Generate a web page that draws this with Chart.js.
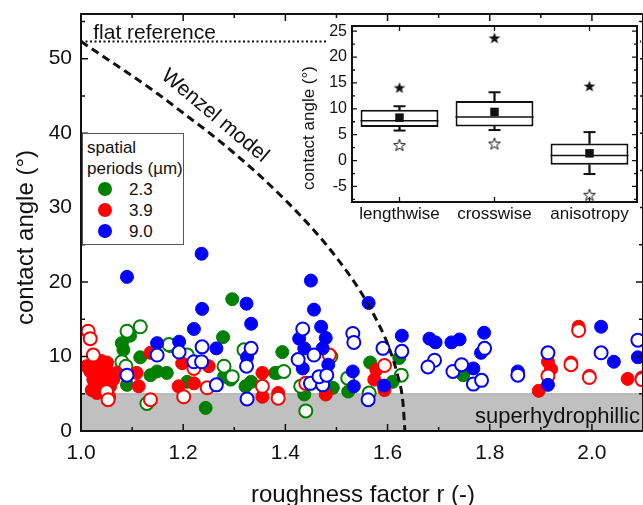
<!DOCTYPE html>
<html>
<head>
<meta charset="utf-8">
<script src="https://cdn.jsdelivr.net/npm/chart.js@4.4.0/dist/chart.umd.min.js"></script>
<style>
  html, body { margin:0; padding:0; background:#fff; overflow:hidden; }
  #wrap { position:relative; width:643px; height:505px; }
  #main { position:absolute; left:0; top:0; }
  #inset { position:absolute; left:296px; top:22px; }
  #legend { position:absolute; left:82px; top:133px; width:100px; height:107px; border:1px solid #555;
            background:#fff; font:17px 'Liberation Sans', Arial, sans-serif; color:#111; padding-top:3px; box-sizing:content-box; }
  #legend .row { height:21px; line-height:21px; padding-left:4px; white-space:nowrap; position:relative; }
  #legend .dot { position:absolute; left:15px; top:3px; width:14px; height:14px; border-radius:50%; }
  #legend .val { position:absolute; left:46px; }
</style>
</head>
<body>
<div id="wrap">
  <canvas id="main" width="643" height="505"></canvas>
  <canvas id="inset" width="344" height="208"></canvas>
  <div id="legend"></div>
</div>
<script>
const FONT = "'Liberation Sans', Arial, sans-serif";
const INK = '#111';

// spatial periods (legend)
const periodLabels = ['2.3', '3.9', '9.0'];
const periodColors = ['#008000', '#ff0000', '#0000ff'];

// [roughness factor r, contact angle deg]; solid = filled marker, open = hollow marker
const p23Solid = [[1.296,17.7],[1.278,12.6],[1.096,12.8],[1.080,11.8],[1.083,10.9],[1.116,9.9],[1.175,11.4],
  [1.136,7.5],[1.149,8.0],[1.168,7.8],[1.090,6.2],[1.244,3.1],[1.280,7.3],[1.208,6.6],[1.322,6.0],[1.333,6.6],
  [1.380,7.8],[1.394,10.6],[1.384,7.8],[1.437,4.9],[1.493,5.8],[1.523,5.3],[1.566,9.2],[1.610,6.6],[1.623,9.8],
  [1.748,7.5],[1.293,6.9]];
const p23Open = [[1.116,14.0],[1.090,13.4],[1.080,9.3],[1.088,8.7],[1.208,10.2],[1.280,8.7],[1.296,7.3],
  [1.319,10.9],[1.129,3.7],[1.397,8.0],[1.440,2.7],[1.430,6.0],[1.489,10.0],[1.522,7.1],[1.564,5.1],[1.627,7.5],
  [1.172,11.6]];
const p39Solid = [[1.018,8.0],[1.034,8.9],[1.050,8.4],[1.024,6.9],[1.044,7.3],[1.063,6.9],[1.021,5.5],[1.037,6.0],
  [1.057,6.0],[1.011,8.7],[1.031,5.1],[1.109,7.8],[1.113,6.0],[1.136,10.5],[1.198,9.1],[1.250,8.7],[1.191,6.0],
  [1.221,6.4],[1.355,7.8],[1.355,4.6],[1.386,5.1],[1.479,4.9],[1.578,8.2],[1.574,6.9],[1.594,5.5],[1.974,14.0],
  [1.914,9.3],[1.920,8.3],[1.896,5.4],[1.959,9.2],[1.995,7.4],[2.070,7.0],[2.098,7.2],[1.051,9.2],[1.070,7.8],
  [1.040,9.4],[1.028,7.6]];
const p39Open = [[1.014,13.4],[1.018,12.4],[1.024,10.2],[1.054,4.6],[1.050,5.3],[1.136,4.2],[1.201,4.6],[1.221,8.4],
  [1.247,5.8],[1.355,6.0],[1.386,4.4],[1.594,8.8],[1.440,6.4],[1.486,10.2],[1.974,13.5],[1.914,7.4],[1.959,8.9],
  [1.995,7.2],[2.098,6.9],[1.053,4.2]];
const p90Solid = [[1.090,20.7],[1.236,23.8],[1.237,16.4],[1.221,13.7],[1.324,17.1],[1.333,14.4],[1.149,11.8],
  [1.192,12.0],[1.265,11.1],[1.325,9.9],[1.450,20.2],[1.456,16.3],[1.470,14.0],[1.427,12.4],[1.479,12.5],
  [1.437,11.1],[1.473,11.1],[1.434,8.4],[1.484,8.9],[1.563,17.2],[1.628,12.8],[1.532,8.0],[1.534,6.0],[1.593,6.1],
  [1.682,12.4],[1.694,11.9],[1.725,11.9],[1.741,12.3],[1.789,13.2],[1.783,10.5],[1.768,8.4],[1.855,8.0],
  [1.914,6.2],[2.018,14.0],[2.043,9.3],[2.090,9.9]];
const p90Open = [[1.090,7.5],[1.149,10.2],[1.192,10.6],[1.221,9.3],[1.237,11.3],[1.236,9.3],[1.265,6.2],[1.333,11.1],
  [1.324,8.7],[1.325,4.3],[1.434,13.7],[1.425,9.6],[1.456,10.2],[1.449,6.4],[1.473,6.2],[1.466,7.3],[1.481,7.5],
  [1.532,13.1],[1.534,11.9],[1.591,11.1],[1.628,10.7],[1.562,4.2],[1.692,9.5],[1.679,8.6],[1.728,8.0],[1.745,8.9],
  [1.790,11.1],[1.768,6.3],[1.784,6.8],[1.855,7.5],[1.914,10.5],[2.018,10.5],[2.090,12.2]];

// model lines
const flatAngle = 52.3;
const wenzelR     = [1.0, 1.05, 1.1, 1.15, 1.2, 1.25, 1.3, 1.35, 1.4, 1.45, 1.5, 1.55, 1.58, 1.6, 1.62, 1.63, 1.634];
const wenzelAngle = [52.3, 50.0, 47.7, 45.3, 42.7, 40.1, 37.3, 34.3, 31.0, 27.4, 23.3, 18.4, 14.7, 11.7, 7.4, 3.9, 0];
const superLimit = 5;

// inset box plot
const boxCats   = ['lengthwise', 'crosswise', 'anisotropy'];
const boxQ1     = [6.5, 6.6, -0.8];
const boxQ3     = [9.8, 11.5, 3.3];
const boxMedian = [7.7, 8.4, 1.0];
const boxMean   = [8.3, 9.4, 1.4];
const whiskLo   = [5.8, 5.9, -2.6];
const whiskHi   = [10.5, 13.2, 5.5];
const boxMax    = [14.1, 23.7, 14.4];
const boxMin    = [3.0, 3.3, -6.6];

Chart.defaults.font.family = FONT;
Chart.defaults.color = INK;

// legend
document.getElementById('legend').innerHTML =
  '<div class="row">spatial</div><div class="row">periods (µm)</div>' +
  periodLabels.map((l, i) =>
    `<div class="row"><span class="dot" style="background:${periodColors[i]}"></span><span class="val">${l}</span></div>`
  ).join('');

function onStep(v, step) { return Math.abs(v / step - Math.round(v / step)) < 1e-6; }

// pin the plot area: no extra room for half tick labels
function fitX(h) { return s => { s.height = h; s.paddingLeft = 0; s.paddingRight = 0; }; }
function fitY(w) { return s => { s.width = w; s.paddingTop = 0; s.paddingBottom = 0; }; }

const tickMarks = {
  id: 'tickMarks',
  afterDatasetsDraw(chart, args, o) {
    const { ctx, chartArea: a } = chart;
    const xs = chart.scales.x, ys = chart.scales.y;
    ctx.save();
    ctx.strokeStyle = INK;
    ctx.lineWidth = o.frame;
    ctx.strokeRect(a.left, a.top, a.width, a.height);
    ctx.lineWidth = o.tickWidth;
    ctx.beginPath();
    xs.ticks.forEach((t, i) => {
      if (o.xStep && !onStep(t.value, o.xStep)) return;
      const p = xs.getPixelForTick(i);
      const len = t.label ? o.major : o.minor;
      ctx.moveTo(p, a.bottom); ctx.lineTo(p, a.bottom - len);
      ctx.moveTo(p, a.top); ctx.lineTo(p, a.top + len);
    });
    ys.ticks.forEach((t, i) => {
      if (o.yStep && !onStep(t.value, o.yStep)) return;
      const p = ys.getPixelForTick(i);
      const len = t.label ? o.major : o.minor;
      ctx.moveTo(a.left, p); ctx.lineTo(a.left + len, p);
      ctx.moveTo(a.right, p); ctx.lineTo(a.right - len, p);
    });
    ctx.stroke();
    ctx.restore();
  }
};

const mainText = {
  id: 'mainText',
  afterDatasetsDraw(chart) {
    const { ctx, chartArea: a } = chart;
    const xs = chart.scales.x, ys = chart.scales.y;
    ctx.save();
    ctx.fillStyle = INK;
    ctx.font = `21px ${FONT}`;
    ctx.textAlign = 'left';
    ctx.textBaseline = 'alphabetic';
    ctx.fillText('flat reference', xs.getPixelForValue(1.024), ys.getPixelForValue(flatAngle) - 3);

    ctx.save();
    ctx.translate(xs.getPixelForValue(1.262), ys.getPixelForValue(42.3));
    ctx.rotate(40 * Math.PI / 180);
    ctx.textAlign = 'center'; ctx.textBaseline = 'middle';
    ctx.fillText('Wenzel model', 0, 0);
    ctx.restore();

    ctx.font = `22px ${FONT}`;
    ctx.textAlign = 'right';
    ctx.fillText('superhydrophillic', a.right - 3, ys.getPixelForValue(1.1));

    ctx.font = `24px ${FONT}`;
    ctx.textAlign = 'center'; ctx.textBaseline = 'middle';
    ctx.fillText('roughness factor r (-)', (a.left + a.right) / 2 + 1, 495);
    ctx.save();
    ctx.translate(26, (a.top + a.bottom) / 2 + 15);
    ctx.rotate(-Math.PI / 2);
    ctx.fillText('contact angle (°)', 0, 0);
    ctx.restore();
    ctx.restore();
  }
};

const pointSets = [
  { pts: p23Solid, c: 0, open: false, order: 7 },
  { pts: p23Open,  c: 0, open: true,  order: 6 },
  { pts: p39Solid, c: 1, open: false, order: 5 },
  { pts: p39Open,  c: 1, open: true,  order: 4 },
  { pts: p90Solid, c: 2, open: false, order: 3 },
  { pts: p90Open,  c: 2, open: true,  order: 2 },
];

const mainDatasets = pointSets.map(s => ({
  type: 'scatter',
  label: periodLabels[s.c] + (s.open ? ' open' : ''),
  data: s.pts.map(([x, y]) => ({ x, y })),
  pointRadius: 6.5,
  pointBackgroundColor: s.open ? '#fff' : periodColors[s.c],
  pointBorderColor: periodColors[s.c],
  pointBorderWidth: s.open ? 2 : 1,
  order: s.order,
}));

mainDatasets.push(
  { type: 'line', label: 'Wenzel model', data: wenzelR.map((r, i) => ({ x: r, y: wenzelAngle[i] })),
    borderColor: INK, borderWidth: 3, borderDash: [8, 5], pointRadius: 0, fill: false,
    cubicInterpolationMode: 'monotone', order: 0 },
  { type: 'line', label: 'flat reference', data: [{ x: 1, y: flatAngle }, { x: 2.1, y: flatAngle }],
    borderColor: INK, borderWidth: 2, borderDash: [2, 2.5], pointRadius: 0, fill: false, order: 1 },
  { type: 'line', label: 'superhydrophillic', data: [{ x: 1, y: superLimit }, { x: 2.1, y: superLimit }],
    borderColor: '#a9a9a9', borderWidth: 1, backgroundColor: '#c0c0c0', fill: 'origin', pointRadius: 0, order: 10 }
);

new Chart(document.getElementById('main'), {
  type: 'scatter',
  data: { datasets: mainDatasets },
  options: {
    responsive: false,
    animation: false,
    layout: { autoPadding: false, padding: { top: 14, right: 0, left: 0, bottom: 0 } },
    plugins: {
      legend: { display: false },
      tooltip: { enabled: false },
      tickMarks: { frame: 2, tickWidth: 1.5, major: 7, minor: 4, xStep: 0.1, yStep: 5 },
    },
    scales: {
      x: {
        type: 'linear', min: 1, max: 2.1,
        afterFit: fitX(74),
        grid: { display: false, drawTicks: false },
        border: { display: false },
        ticks: {
          stepSize: 0.1, padding: 10, autoSkip: false, maxRotation: 0, includeBounds: false,
          font: { size: 21 }, color: INK,
          callback: v => (Math.round(v * 10) % 2 === 0 ? v.toFixed(1) : ''),
        },
      },
      y: {
        type: 'linear', min: 0, max: 56,
        afterFit: fitY(81),
        grid: { display: false, drawTicks: false },
        border: { display: false },
        ticks: {
          stepSize: 5, padding: 9, autoSkip: false, includeBounds: false,
          font: { size: 21 }, color: INK,
          callback: v => (v % 10 === 0 ? String(v) : ''),
        },
      },
    },
  },
  plugins: [tickMarks, mainText],
});

// inset
function starImage(filled) {
  const c = document.createElement('canvas');
  c.width = 14; c.height = 14;
  const g = c.getContext('2d');
  g.beginPath();
  for (let i = 0; i < 10; i++) {
    const rad = i % 2 ? 2.5 : 6.2;
    const ang = -Math.PI / 2 + i * Math.PI / 5;
    g.lineTo(7 + rad * Math.cos(ang), 7.6 + rad * Math.sin(ang));
  }
  g.closePath();
  if (filled) { g.fillStyle = INK; g.fill(); }
  else { g.fillStyle = '#fff'; g.fill(); g.lineWidth = 1; g.strokeStyle = INK; g.stroke(); }
  return c;
}

const insetBack = {
  id: 'insetBack',
  beforeDraw(chart) {
    const { ctx, width, height } = chart;
    ctx.save();
    ctx.fillStyle = '#fff';
    ctx.fillRect(32, 0, width - 32, height);
    ctx.restore();
  },
  afterDatasetsDraw(chart) {
    const { ctx, chartArea: a } = chart;
    ctx.save();
    ctx.fillStyle = INK;
    ctx.font = `17px ${FONT}`;
    ctx.textAlign = 'center'; ctx.textBaseline = 'middle';
    ctx.translate(13, (a.top + a.bottom) / 2 + 14);
    ctx.rotate(-Math.PI / 2);
    ctx.fillText('contact angle (°)', 0, 0);
    ctx.restore();
  }
};

const markerSet = (label, data, extra) => Object.assign({
  type: 'line', label, data, showLine: false, pointBorderColor: INK, pointBackgroundColor: INK,
}, extra);

new Chart(document.getElementById('inset'), {
  type: 'bar',
  data: {
    labels: boxCats,
    datasets: [
      { label: 'IQR', data: boxQ1.map((v, i) => [v, boxQ3[i]]), backgroundColor: '#fff', borderColor: INK,
        borderWidth: 2, borderSkipped: false, barPercentage: 0.82, categoryPercentage: 1, grouped: false, order: 6 },
      { label: 'upper whisker', data: boxQ3.map((v, i) => [v, whiskHi[i]]), backgroundColor: INK,
        barThickness: 1.6, grouped: false, order: 5 },
      { label: 'lower whisker', data: whiskLo.map((v, i) => [v, boxQ1[i]]), backgroundColor: INK,
        barThickness: 1.6, grouped: false, order: 5 },
      markerSet('median', boxMedian, { pointStyle: 'line', pointRadius: 39, pointBorderWidth: 1.5, order: 3 }),
      markerSet('whisker max', whiskHi, { pointStyle: 'line', pointRadius: 6, pointBorderWidth: 2, order: 3 }),
      markerSet('whisker min', whiskLo, { pointStyle: 'line', pointRadius: 6, pointBorderWidth: 2, order: 3 }),
      markerSet('mean', boxMean, { pointStyle: 'rect', pointRadius: 6, pointBorderWidth: 0, order: 1 }),
      markerSet('max', boxMax, { pointStyle: starImage(true), order: 1 }),
      markerSet('min', boxMin, { pointStyle: starImage(false), order: 1 }),
    ],
  },
  options: {
    responsive: false,
    animation: false,
    layout: { autoPadding: false, padding: { top: 4, right: 3, left: 0, bottom: 0 } },
    plugins: {
      legend: { display: false },
      tooltip: { enabled: false },
      tickMarks: { frame: 2, tickWidth: 1.3, major: 5, minor: 3, yStep: 2.5 },
    },
    scales: {
      x: {
        type: 'category',
        afterFit: fitX(28),
        grid: { display: false, drawTicks: false },
        border: { display: false },
        ticks: { padding: 2, font: { size: 17 }, color: INK, maxRotation: 0, autoSkip: false },
      },
      y: {
        type: 'linear', min: -8, max: 26,
        afterFit: fitY(56),
        grid: { display: false, drawTicks: false },
        border: { display: false },
        ticks: {
          stepSize: 2.5, padding: 5, autoSkip: false, includeBounds: false, font: { size: 16 }, color: INK,
          callback: v => (v % 5 === 0 ? String(v) : ''),
        },
      },
    },
  },
  plugins: [insetBack, tickMarks],
});
</script>
</body>
</html>
